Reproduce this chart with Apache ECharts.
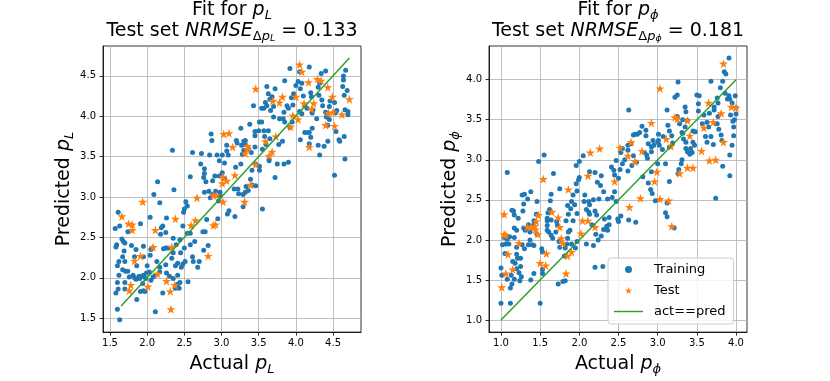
<!DOCTYPE html>
<html>
<head>
<meta charset="utf-8">
<script src="https://cdn.jsdelivr.net/npm/echarts@6/dist/echarts.min.js"></script>
<style>
  html, body { margin: 0; padding: 0; background: #fff; }
  #chart { width: 830px; height: 381px; }
</style>
</head>
<body>
<div id="chart"></div>
<script>
// [actual, predicted] pairs
const trainL = [
  [1.63,1.48],[1.60,1.61],[1.58,1.81],[1.61,1.86],[1.70,1.86],[1.60,1.94],[1.70,1.94],[1.62,2.03],
  [1.67,2.10],[1.71,2.08],[1.74,2.08],[1.60,2.15],[1.62,2.20],[1.70,2.20],[1.67,2.26],[1.69,2.33],
  [1.58,2.38],[1.59,2.41],[1.66,2.48],[1.68,2.45],[1.70,2.43],[1.57,2.61],[1.63,2.64],[1.61,2.81],
  [1.74,2.57],[1.91,2.67],[1.79,2.40],[1.85,2.35],[1.83,2.26],[1.86,2.15],[1.81,2.03],[1.76,2.01],
  [1.83,2.00],[1.85,1.98],[1.89,2.02],[1.90,1.99],[1.93,2.02],[1.94,1.93],[1.95,2.03],[1.98,1.99],
  [1.99,2.06],[1.91,1.83],[1.95,1.84],[1.97,1.83],[1.86,1.73],[1.95,2.39],[1.95,2.26],[2.00,2.15],
  [2.03,2.07],[2.05,1.97],[2.08,2.01],[2.11,2.03],[2.04,2.28],[2.05,2.35],[2.07,2.37],[2.13,2.20],
  [2.17,2.13],[2.21,1.81],[2.11,1.58],[2.04,2.75],[2.09,3.03],[2.14,3.19],[2.17,2.93],[2.34,3.58],
  [2.36,3.09],[2.19,2.62],[2.21,2.64],[2.18,2.54],[2.25,2.56],[2.26,2.74],[2.22,2.36],[2.25,2.37],
  [2.28,2.37],[2.35,2.49],[2.39,2.41],[2.35,2.31],[2.33,2.24],[2.25,2.16],[2.17,2.07],[2.26,2.06],
  [2.30,2.02],[2.35,1.99],[2.41,2.03],[2.38,2.15],[2.41,2.18],[2.38,1.87],[2.43,1.87],[2.41,1.92],
  [2.44,1.94],[2.46,2.13],[2.48,2.17],[2.51,2.20],[2.45,2.31],[2.50,2.37],[2.44,2.47],[2.48,2.64],
  [2.49,2.81],[2.50,2.85],[2.52,2.94],[2.54,2.89],[2.54,2.55],[2.55,1.95],[2.58,2.55],[2.58,2.41],
  [2.61,2.26],[2.62,2.20],[2.64,2.45],[2.68,2.13],[2.70,2.20],[2.58,3.25],[2.61,3.55],[2.72,3.41],
  [2.73,3.54],[2.77,3.35],[2.77,3.29],[2.79,3.19],[2.76,3.24],[2.77,3.06],[2.75,2.57],[2.78,2.57],
  [2.76,2.34],[2.82,2.40],[2.83,3.07],[2.85,2.99],[2.87,3.70],[2.84,3.52],[2.86,3.78],[2.80,2.72],
  [2.95,2.73],[2.88,3.03],[2.92,3.07],[2.96,2.95],[2.98,3.06],[2.98,3.02],[2.91,3.26],[2.88,3.20],
  [2.94,3.52],[2.97,3.45],[3.01,3.52],[3.04,3.42],[3.09,3.52],[3.07,3.64],[3.07,3.57],[2.97,3.26],
  [3.01,3.30],[3.04,3.23],[3.08,2.79],[3.10,2.83],
  [3.18,2.76],[3.29,2.88],[3.55,2.85],[3.17,3.10],[3.22,3.10],[3.29,3.03],[3.33,3.13],[3.41,3.15],
  [3.46,3.14],[3.51,3.33],[3.41,3.33],[3.46,3.41],[3.26,3.41],[3.19,3.37],[3.28,3.53],[3.30,3.58],
  [3.27,3.64],[3.20,3.70],[3.21,3.67],[3.30,3.69],[3.32,3.70],[3.26,3.85],[3.38,3.90],[3.45,3.81],
  [3.45,3.76],[3.50,3.82],[3.51,3.93],[3.54,3.93],[3.57,3.82],[3.63,3.82],[3.65,3.72],[3.43,4.13],
  [3.57,4.10],[3.54,4.10],[3.61,4.13],[3.59,4.17],[3.65,4.21],[3.61,4.37],[3.63,4.28],[3.72,4.34],
  [3.85,4.44],[3.92,4.59],[4.05,4.55],[4.18,4.61],[4.34,4.53],[4.40,4.56],[4.64,4.50],[4.64,4.45],
  [4.63,4.37],[4.67,4.57],[3.68,4.24],[3.70,4.12],[3.66,4.07],[3.70,3.99],[3.78,3.97],[3.83,3.97],
  [3.84,4.05],[3.85,3.93],[3.88,4.13],[3.90,4.10],[3.94,4.23],[3.96,4.14],[3.97,4.28],[4.00,4.38],
  [4.03,4.43],[4.08,4.41],[4.06,4.34],[4.10,4.25],[4.12,4.13],[4.08,4.03],[4.15,4.10],[4.20,4.29],
  [4.21,4.24],[4.22,4.04],[4.23,4.08],[4.28,3.97],[4.31,4.26],[4.30,4.36],[4.32,4.41],[4.35,4.20],
  [4.36,4.13],[4.40,4.05],[4.41,3.99],[4.45,4.12],[4.45,3.96],[4.43,3.89],[4.46,4.19],[4.52,4.17],
  [4.53,4.04],[4.55,4.07],[4.54,3.81],[4.58,3.71],[4.59,3.69],[4.65,3.75],[4.66,4.08],[4.65,4.26],
  [4.69,4.32],[4.70,4.06],[4.70,4.02],[4.52,3.27],[4.66,3.47],[4.43,3.69],[4.38,3.63],[4.30,3.64],
  [4.32,3.52],[4.18,3.66],[4.20,3.74],[4.18,3.80],[4.12,3.80],[4.16,3.80],[4.22,3.85],[4.06,3.71],
  [4.05,4.06],[3.92,3.86],[3.95,3.93],[3.82,3.69],[3.77,3.65],[3.75,3.41],[3.84,3.41],[3.90,3.43],
  [3.72,3.24],[3.64,3.47],[3.64,3.45],[3.60,3.65],[3.58,3.75],[3.39,3.22],[3.36,3.08],[3.32,3.06],
  [3.23,3.04],[3.51,3.38],[3.55,3.59],[3.40,3.55],[3.45,3.62],[3.31,3.65],[3.36,3.60]
];
const testL = [
  [1.66,2.76],[1.75,2.67],[1.80,2.66],[1.80,2.59],[1.94,2.94],[1.83,2.21],[1.91,2.27],[1.78,1.91],
  [1.76,1.84],[2.11,2.59],[2.08,2.38],[2.01,1.89],[2.14,2.05],[2.26,1.96],[2.31,1.83],[2.37,1.91],
  [2.32,1.61],[2.33,2.38],[2.38,2.73],[2.59,2.65],[2.65,2.71],[2.67,2.99],[2.82,2.27],[2.89,2.65],
  [2.92,2.66],[2.89,3.02],[2.93,3.02],[3.01,3.17],[3.02,2.94],[3.07,3.20],[3.18,3.27],[3.02,3.25],
  [3.03,3.78],[3.10,3.79],[3.15,3.62],[3.31,2.94],[3.32,3.54],[3.35,3.63],[3.35,3.59],[3.39,3.15],
  [3.46,3.40],[3.46,4.34],[3.59,3.69],[3.64,3.51],[3.68,3.56],[3.69,4.19],[3.78,4.17],[3.82,4.24],
  [3.73,3.75],[3.93,3.87],[3.96,4.01],[4.00,4.24],[4.03,3.96],[4.05,4.64],[4.08,4.55],[4.11,4.16],
  [4.17,4.42],[4.18,3.62],[4.21,4.09],[4.24,4.16],[4.29,4.46],[4.34,4.44],[4.40,3.89],[4.43,4.36],
  [4.44,4.04],[4.49,4.24],[4.50,4.05],[4.52,3.88],[4.62,4.02],[4.72,4.21]
];
const trainPhi = [
  [1.00,1.21],[1.12,1.21],[1.50,1.21],[1.00,1.65],[1.01,1.56],[1.12,1.40],[1.08,1.51],[1.13,1.56],
  [1.17,1.51],[1.14,1.45],[1.24,1.49],[1.26,1.54],[1.23,1.59],[1.20,1.64],[1.25,1.67],[1.18,1.71],
  [1.15,1.73],[1.21,1.77],[1.25,1.77],[1.20,1.82],[1.05,1.83],[1.02,1.94],[1.06,1.95],[1.10,1.95],
  [1.04,2.03],[1.08,2.01],[1.11,2.04],[1.17,2.03],[1.20,1.91],[1.27,1.94],[1.30,1.89],[1.35,1.94],
  [1.37,2.00],[1.37,2.10],[1.31,2.12],[1.29,2.15],[1.33,2.15],[1.35,2.19],[1.17,2.15],[1.20,2.12],
  [1.22,2.27],[1.17,2.31],[1.16,2.36],[1.14,2.37],[1.28,2.36],[1.29,2.45],[1.27,2.56],[1.30,2.57],
  [1.34,2.51],[1.38,2.60],[1.08,2.84],[1.48,2.98],[1.55,3.06],[1.46,2.48],[1.45,2.32],[1.42,2.24],
  [1.41,2.18],[1.46,2.07],[1.40,1.94],[1.42,1.93],[1.52,1.89],[1.53,1.85],[1.38,1.50],[1.42,1.58],
  [1.53,1.63],[1.53,1.58],[1.59,2.27],[1.59,2.24],[1.59,2.18],[1.59,2.12],[1.61,2.10],[1.64,2.06],
  [1.66,2.02],[1.60,2.34],[1.62,2.38],[1.64,2.57],[1.63,2.49],[1.67,2.83],[1.64,2.25],[1.71,2.23],
  [1.72,2.18],[1.70,2.10],[1.74,1.98],[1.75,1.91],[1.75,2.64],[1.73,1.45],[1.79,1.48],[1.82,1.49],
  [1.81,1.80],[1.82,1.90],[1.84,1.95],[1.85,2.02],[1.86,2.10],[1.88,2.12],[1.83,2.24],[1.86,2.32],
  [1.89,2.39],[1.85,2.43],[1.90,2.48],[1.92,2.56],[1.97,2.61],[1.96,2.70],[1.99,2.75],[2.00,2.78],
  [2.00,2.98],[1.96,2.93],[2.05,3.05],[1.94,2.44],[1.97,2.33],[1.92,2.24],[1.90,1.95],[1.97,1.98],
  [1.95,1.90],[2.06,2.48],[2.07,2.56],[2.12,2.48],[2.13,2.44],[2.09,2.38],[2.12,2.35],[2.13,2.32],
  [2.16,2.19],[2.09,1.95],[2.18,1.93],[2.20,1.66],[2.30,1.67],[2.13,2.85],[2.20,2.84],[2.28,2.80],
  [2.23,2.72],[2.27,2.68],[2.31,2.60],[2.36,2.51],[2.25,2.51],[2.18,2.50],[2.20,2.36],[2.22,2.31],
  [2.32,2.26],[2.35,2.17],[2.31,2.13],[2.38,2.19],[2.38,2.28],[2.28,2.05],[2.24,2.00],[2.21,2.07],
  [2.44,2.87],[2.47,2.99],[2.45,2.81],[2.41,2.91],[2.45,2.60],[2.42,2.53],[2.47,2.48],[2.49,2.26],
  [2.36,2.12],
  [2.63,3.62],[2.55,3.14],[2.53,3.09],[2.58,3.00],[2.52,2.88],[2.55,2.95],[2.62,2.86],[2.67,2.93],
  [2.73,2.97],[2.69,3.05],[2.62,3.12],[2.62,3.18],[2.66,3.20],[2.69,3.31],[2.71,3.32],[2.74,3.32],
  [2.77,3.34],[2.80,3.42],[2.85,3.37],[2.85,3.30],[2.88,3.20],[2.92,3.16],[2.92,3.10],[2.95,3.18],
  [2.83,3.09],[2.86,3.06],[2.87,3.02],[2.94,3.24],[3.00,3.22],[3.01,3.24],[3.01,3.32],[3.02,3.18],
  [3.06,3.13],[3.07,3.29],[3.13,3.43],[3.12,3.62],[3.15,3.36],[3.18,3.30],[3.19,3.21],[3.15,3.16],
  [3.10,2.95],[3.00,2.95],[2.92,2.85],[2.81,2.79],[2.88,2.71],[2.91,2.63],[2.93,2.58],[2.97,2.49],
  [2.72,2.22],[2.63,2.25],[2.53,2.30],[2.50,2.23],[3.12,2.46],[3.10,2.34],[3.12,2.29],[3.21,2.15],
  [3.15,2.73],[3.25,3.81],[3.26,3.97],[3.22,3.78],[3.25,3.54],[3.28,3.45],[3.31,3.34],[3.32,3.50],
  [3.35,3.66],[3.36,3.60],[3.38,3.49],[3.35,3.41],[3.32,3.33],[3.33,3.26],[3.36,3.22],[3.36,3.14],
  [3.38,3.10],[3.31,3.00],[3.30,2.95],[3.27,2.88],[3.26,2.83],[3.41,3.07],[3.44,3.09],[3.47,3.18],
  [3.42,3.14],[3.45,3.22],[3.45,3.36],[3.48,3.35],[3.50,3.81],[3.53,3.80],[3.52,3.70],[3.52,3.61],
  [3.57,3.45],[3.59,3.56],[3.63,3.47],[3.65,3.41],[3.66,3.58],[3.68,3.98],[3.61,3.29],[3.63,3.22],
  [3.68,3.29],[3.71,3.19],[3.74,3.45],[3.72,3.62],[3.72,3.66],[3.76,3.77],[3.77,3.71],[3.77,3.54],
  [3.76,3.45],[3.78,3.38],[3.81,3.31],[3.82,3.24],[3.74,2.52],[3.83,2.92],[3.80,3.90],[3.83,3.98],
  [3.85,4.10],[3.86,3.83],[3.89,3.76],[3.87,4.07],[3.91,4.27],[3.91,3.80],[3.92,3.76],[3.95,3.71],
  [3.93,3.56],[3.96,3.48],[3.97,3.41],[3.97,3.30],[3.95,3.18],[3.92,3.06],[3.92,2.80],[4.00,3.57],
  [3.98,3.50],[4.00,3.65],[3.99,3.80],[2.50,2.77]
];
const testPhi = [
  [1.01,1.41],[1.06,1.58],[1.15,1.63],[1.09,1.82],[1.23,1.96],[1.04,2.07],[1.06,2.06],[1.04,2.32],
  [1.34,2.16],[1.38,2.16],[1.43,2.17],[1.45,2.23],[1.44,2.13],[1.47,2.07],[1.48,2.31],[1.54,2.76],
  [1.50,1.71],[1.57,1.68],[1.58,1.83],[1.65,2.35],[1.73,2.28],[1.75,2.16],[1.77,2.02],[1.79,1.96],
  [1.85,1.80],[1.90,1.85],[1.83,1.58],[1.86,2.63],[2.02,2.08],[2.04,2.24],[2.11,2.24],[2.20,2.16],
  [2.11,2.80],[2.14,3.09],[2.26,3.14],[2.45,2.73],
  [3.03,3.89],[3.22,3.53],[3.25,3.51],[2.92,3.46],[2.66,3.22],[2.52,3.15],[2.62,3.05],[2.71,2.98],
  [2.80,3.11],[3.11,3.26],[3.17,3.17],[2.99,2.85],[2.96,2.73],[2.78,2.52],[2.64,2.41],[3.03,2.51],
  [3.14,2.49],[3.18,2.17],[3.28,2.83],[3.38,2.90],[3.45,2.90],[3.41,3.30],[3.38,3.49],[3.56,3.11],
  [3.59,3.40],[3.66,2.99],[3.74,3.00],[3.71,3.47],[3.65,3.71],[3.81,3.58],[3.84,3.22],[3.84,4.20],
  [3.94,3.66],[4.00,3.65]
];
const lineL = [[1.65, 1.65], [4.72, 4.72]];
const linePhi = [[1.0, 1.0], [4.0, 4.0]];
const ticksL = [1.5, 2.0, 2.5, 3.0, 3.5, 4.0, 4.5];
const ticksPhi = [1.0, 1.5, 2.0, 2.5, 3.0, 3.5, 4.0];

const FONT = "DejaVu Sans";
const BLUE = "#1f77b4", ORANGE = "#ff7f0e", GREEN = "#2ca02c";
const STAR = "path://M50,0 L61.8,35.6 L99,35.6 L69,57.6 L80.4,93 L50,71.2 L19.6,93 L31,57.6 L1,35.6 L38.2,35.6 Z";
const LINE_ICON = "path://M0,0 L60,0 L60,3 L0,3 Z";

const rich = {
  i: { fontFamily: FONT, fontStyle: "italic", fontSize: 19, color: "#000" },
  s: { fontFamily: FONT, fontStyle: "italic", fontSize: 13, color: "#000", lineHeight: 10, padding: [10, 0, 0, 0] },
  d: { fontFamily: FONT, fontSize: 13, color: "#000", lineHeight: 10, padding: [10, 0, 0, 0] },
  ss: { fontFamily: FONT, fontStyle: "italic", fontSize: 9.5, color: "#000", lineHeight: 6, padding: [15, 0, 0, 0] }
};

function makeTitle(cx, sym, score) {
  return {
    text: "Fit for {i|p}{s|" + sym + "}\nTest set {i|NRMSE}{d|Δ}{s|p}{ss|" + sym + "} = " + score,
    left: cx, top: 0, padding: 0, textAlign: "center",
    textStyle: { fontFamily: FONT, fontSize: 19, fontWeight: "normal", color: "#000", lineHeight: 21, rich: rich }
  };
}

function xAx(idx, min, max, ticks, sym) {
  return {
    type: "value", gridIndex: idx, min: min, max: max,
    name: "Actual {i|p}{s|" + sym + "}", nameLocation: "middle", nameGap: 14,
    nameTextStyle: { fontFamily: FONT, fontSize: 19, color: "#000", rich: rich },
    axisLine: { show: true, onZero: false, lineStyle: { color: "#000", width: 0.8 } },
    axisTick: { show: true, length: 3.5, customValues: ticks, lineStyle: { color: "#000", width: 0.8 } },
    axisLabel: { customValues: ticks, margin: 6, fontFamily: FONT, fontSize: 10, color: "#000", formatter: (v) => v.toFixed(1) },
    splitLine: { show: true, lineStyle: { color: "#b0b0b0", width: 0.8 } }
  };
}
function yAx(idx, min, max, ticks, sym) {
  return {
    type: "value", gridIndex: idx, min: min, max: max,
    name: "Predicted {i|p}{s|" + sym + "}", nameLocation: "middle", nameGap: 29, nameRotate: 90,
    nameTextStyle: { fontFamily: FONT, fontSize: 19, color: "#000", rich: rich },
    axisLine: { show: true, onZero: false, lineStyle: { color: "#000", width: 0.8 } },
    axisTick: { show: true, length: 3.5, customValues: ticks, lineStyle: { color: "#000", width: 0.8 } },
    axisLabel: { customValues: ticks, margin: 7, fontFamily: FONT, fontSize: 10, color: "#000", formatter: (v) => v.toFixed(1) },
    splitLine: { show: true, lineStyle: { color: "#b0b0b0", width: 0.8 } }
  };
}

function seriesFor(idx, train, test, line) {
  return [
    { name: "Training", type: "scatter", xAxisIndex: idx, yAxisIndex: idx, data: train,
      symbol: "circle", symbolSize: 5, itemStyle: { color: BLUE, opacity: 1 } },
    { name: "Test", type: "scatter", xAxisIndex: idx, yAxisIndex: idx, data: test,
      symbol: STAR, symbolSize: 9, itemStyle: { color: ORANGE, opacity: 1 } },
    { name: "act==pred", type: "line", xAxisIndex: idx, yAxisIndex: idx, data: line,
      symbol: "none", lineStyle: { color: GREEN, width: 1.5 }, itemStyle: { color: GREEN } }
  ];
}

const chart = echarts.init(document.getElementById("chart"));
chart.setOption({
  animation: false,
  backgroundColor: "#fff",
  title: [makeTitle(232, "L", "0.133"), makeTitle(618, "ϕ", "0.181")],
  legend: {
    orient: "vertical", left: 608, top: 258,
    padding: [5, 8, 6, 6], itemGap: 8, itemWidth: 29, itemHeight: 7,
    backgroundColor: "rgba(255,255,255,0.8)", borderColor: "#cccccc", borderWidth: 1, borderRadius: 3,
    textStyle: { fontFamily: FONT, fontSize: 13, color: "#000", padding: [0, 0, 0, 6] },
    data: [
      { name: "Training", icon: "circle" },
      { name: "Test", icon: STAR },
      { name: "act==pred", icon: LINE_ICON }
    ]
  },
  grid: [
    { left: 103, top: 46, width: 258, height: 287, show: true, borderColor: "#000", borderWidth: 0.8 },
    { left: 489, top: 46, width: 258, height: 287, show: true, borderColor: "#000", borderWidth: 0.8 }
  ],
  xAxis: [xAx(0, 1.406, 4.876, ticksL, "L"), xAx(1, 0.847, 4.14, ticksPhi, "ϕ")],
  yAxis: [yAx(0, 1.327, 4.87, ticksL, "L"), yAx(1, 0.85, 4.42, ticksPhi, "ϕ")],
  series: seriesFor(0, trainL, testL, lineL).concat(seriesFor(1, trainPhi, testPhi, linePhi))
});
</script>
</body>
</html>
